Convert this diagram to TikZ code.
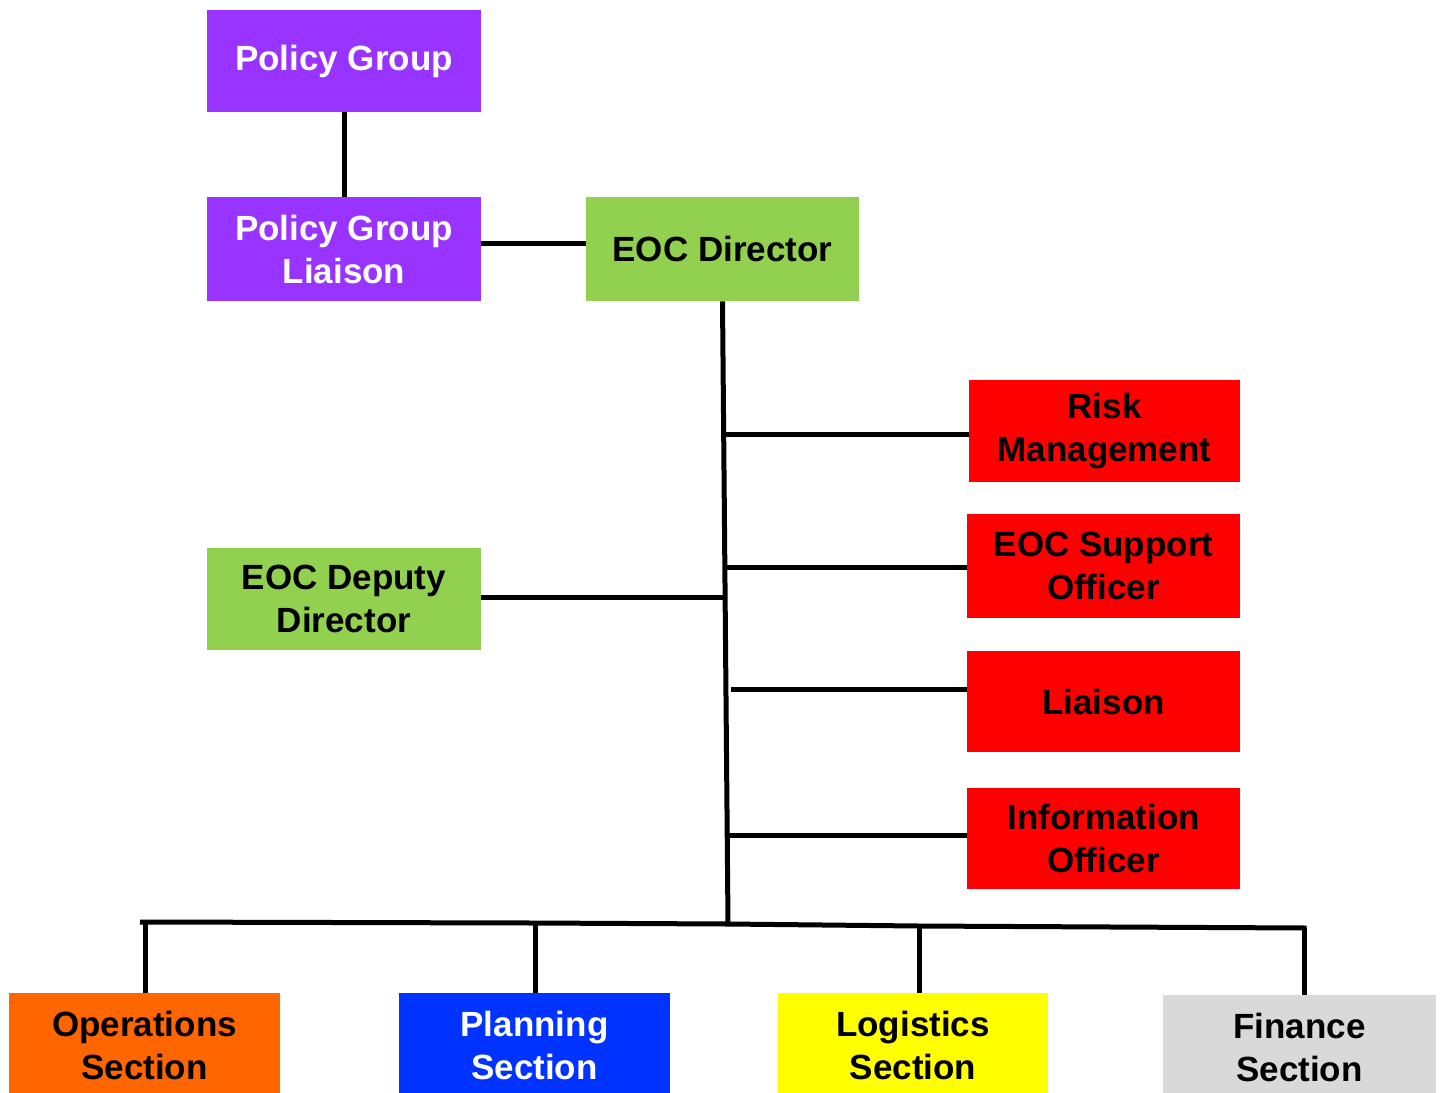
\documentclass[tikz,border=0pt]{standalone}
\usepackage{fontspec}
\setmainfont{Liberation Sans}
\definecolor{cpurple}{HTML}{9933FF}
\definecolor{cgreen}{HTML}{92D050}
\definecolor{cred}{HTML}{FF0000}
\definecolor{corange}{HTML}{FF6600}
\definecolor{cblue}{HTML}{0033FF}
\definecolor{cyellow}{HTML}{FFFF00}
\definecolor{cgray}{HTML}{D9D9D9}
\begin{document}
\begin{tikzpicture}[x=0.5pt,y=-0.5pt,
  box/.style={rectangle, inner sep=0pt, align=center, text=black,
    font=\fontsize{17.5}{21.5}\selectfont\bfseries},
  purplebox/.style={box, fill=cpurple, text=white, minimum width=137pt},
  greenbox/.style={box, fill=cgreen, minimum width=137pt},
  redbox/.style={box, fill=cred, minimum width=136.5pt},
  ln/.style={line width=2.5pt, black}]
\useasboundingbox (0,0) rectangle (1444,1092);
\clip (0,0) rectangle (1444,1092);

% top
\node[purplebox, minimum height=51pt] (pg) at (344,61) {Policy Group};
\node[purplebox, minimum height=52pt] (pgl) at (344,249) {Policy Group\\Liaison};
\node[greenbox, minimum height=52pt, minimum width=136.5pt] (dir) at (722.5,249) {EOC Director};
\node[greenbox, minimum height=51pt] (dep) at (344,599) {EOC Deputy\\Director};

% right column
\node[redbox, minimum height=51pt, minimum width=135.5pt] (risk) at (1104.5,431) {Risk\\Management};
\node[redbox, minimum height=52pt] (sup) at (1103.5,566) {EOC Support\\Officer};
\node[redbox, minimum height=50.5pt] (lia) at (1103.5,701.5) {Liaison};
\node[redbox, minimum height=50.5pt] (info) at (1103.5,838.5) {Information\\Officer};

% bottom sections
\node[box, fill=corange, minimum width=135.5pt, minimum height=52pt] (ops) at (144.5,1045) {Operations\\Section};
\node[box, fill=cblue, text=white, minimum width=135.5pt, minimum height=52pt] (plan) at (534.5,1045) {Planning\\Section};
\node[box, fill=cyellow, minimum width=135pt, minimum height=52pt] (log) at (913,1045) {Logistics\\Section};
\node[box, fill=cgray, minimum width=136.5pt, minimum height=52pt] (fin) at (1299.5,1047) {Finance\\Section};

% junction coordinates
\coordinate (bj) at (728,924);
\coordinate (bl) at (140,922);
\coordinate (b1) at (145,922);
\coordinate (b2) at (535,923);
\coordinate (b3) at (919,926);
\coordinate (b4) at (1304,928);
\coordinate (jr) at (725,434);
\coordinate (js) at (726,567);
\coordinate (jl) at (731,689);
\coordinate (ji) at (729,835);
\coordinate (jd) at (724,597);

% connectors
\draw[ln] (pg.south) -- (pgl.north);
\draw[ln] ([yshift=3pt]pgl.east) -- ([yshift=3pt]dir.west);
\draw[ln] (dir.south) -- (bj);
\draw[ln] (jr) -- (jr -| risk.west);
\draw[ln] (js) -- (js -| sup.west);
\draw[ln] (jl) -- (jl -| lia.west);
\draw[ln] (ji) -- (ji -| info.west);
\draw[ln] (dep.east |- jd) -- (jd);
\draw[ln] (bl) -- (b2) -- (bj) -- (b3) -- ([xshift=1.25pt]b4);
\draw[ln] (b1) -- (b1 |- ops.north);
\draw[ln] (b2) -- (b2 |- plan.north);
\draw[ln] (b3) -- (b3 |- log.north);
\draw[ln] (b4) -- (b4 |- fin.north);
\end{tikzpicture}
\end{document}
